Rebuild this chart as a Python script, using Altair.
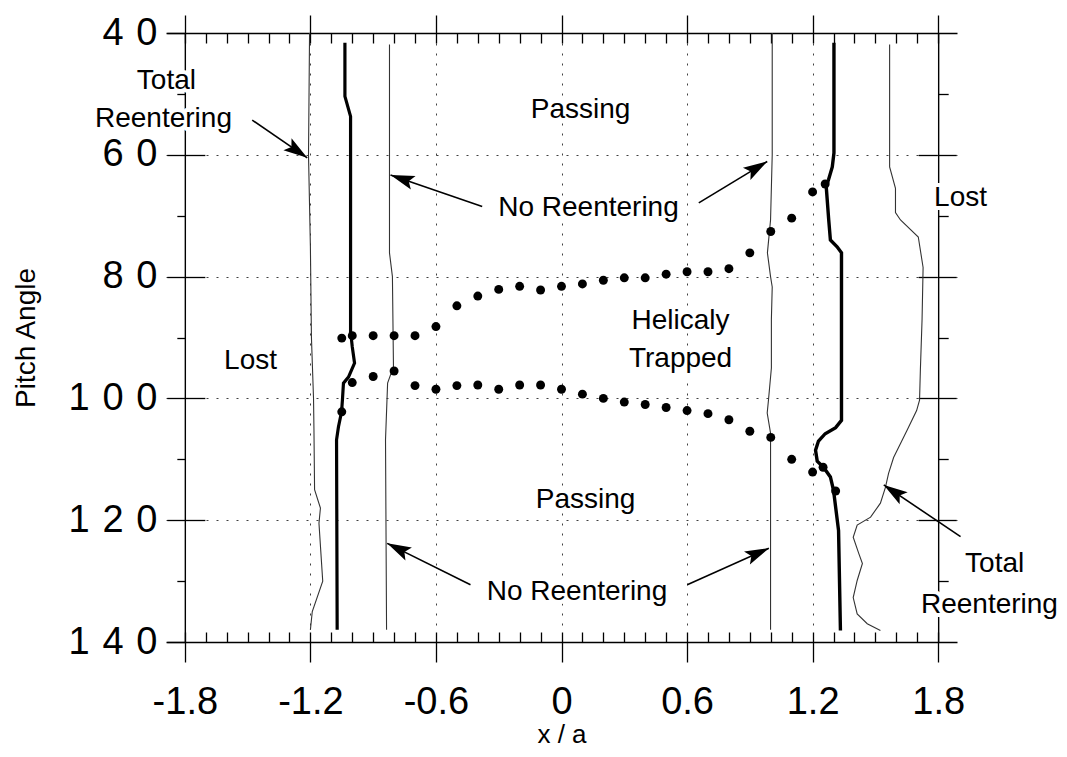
import math
import altair as alt
import pandas as pd

FONT = "Liberation Sans"
W, H = 791, 609
XMIN, XMAX = -1.89, 1.89
YMIN, YMAX = 40, 140

# ---------------- axis ticks / labels ----------------
x_major = [-1.8, -1.2, -0.6, 0.0, 0.6, 1.2, 1.8]
x_major_labels = ["-1.8", "-1.2", "-0.6", "0", "0.6", "1.2", "1.8"]
x_minor = [round(-1.8 + 0.1 * k, 1) for k in range(37)]
x_grid = [-1.2, -0.6, 0.0, 0.6, 1.2]
y_major = [40, 60, 80, 100, 120, 140]
y_major_labels = ["4\u20040", "6\u20040", "8\u20040", "1\u20040\u20040", "1\u20042\u20040", "1\u20044\u20040"]
y_inner = [60, 80, 100, 120]
y_minor = [50, 70, 90, 110, 130]

# ---------------- curves (x/a, pitch angle) ----------------
left_total_x = [-1.204, -1.209, -1.200, -1.195, -1.185, -1.183, -1.180, -1.152, -1.159, -1.141, -1.191, -1.200]
left_total_p = [40, 60, 75, 90, 100, 105, 115, 118, 120.5, 130, 135, 138]

left_thick_x = [-1.035, -1.035, -1.008, -1.008, -1.005, -1.000, -0.989, -1.018, -1.042, -1.047, -1.051, -1.066, -1.075, -1.072]
left_thick_p = [41.6, 50.4, 53.7, 89.2, 89.9, 91.5, 94.2, 96.5, 97.5, 100.3, 102.2, 104.7, 106.8, 138.0]

left_nr_x = [-0.822, -0.822, -0.808, -0.803, -0.831, -0.841, -0.836]
left_nr_p = [41.9, 76.1, 80.0, 94.8, 97.5, 106.8, 138.0]

right_nr_x = [1.007, 1.007, 0.999, 0.984, 0.999, 1.007, 1.003, 1.003, 0.989, 0.983, 0.999, 0.999]
right_nr_p = [40, 60, 70.7, 76.1, 80.0, 81.7, 87, 95, 100.3, 102.4, 105.7, 138.0]

right_thick_x = [1.302, 1.302, 1.294, 1.276, 1.265, 1.277, 1.285, 1.317, 1.338, 1.338, 1.310, 1.260,
                 1.228, 1.214, 1.222, 1.252, 1.285, 1.300, 1.324, 1.333]
right_thick_p = [41.6, 59.7, 62.0, 64.1, 65.2, 70.7, 74.0, 75.1, 76.1, 103.6, 104.8, 105.8,
                 107.0, 108.5, 110.3, 111.3, 112.9, 115.1, 121.7, 138.1]

right_total_x = [1.568, 1.568, 1.596, 1.596, 1.620, 1.705, 1.728, 1.723, 1.715, 1.711, 1.697, 1.652, 1.587,
                 1.563, 1.548, 1.524, 1.477, 1.413, 1.394, 1.420, 1.438, 1.413, 1.394, 1.413, 1.461, 1.524]
right_total_p = [41.9, 62.0, 65.5, 69.5, 70.7, 73.5, 78.5, 87.1, 95.3, 100.3, 102.0, 105.2, 109.7,
                 112.3, 114.6, 117.2, 119.5, 120.8, 122.8, 125.4, 127.1, 129.9, 132.7, 135.4, 137.0, 138.1]

# ---------------- helically trapped boundary points ----------------
upper_x = [-1.05, -1.0, -0.9, -0.8, -0.7, -0.6, -0.5, -0.4, -0.3, -0.2, -0.1, 0.0, 0.1, 0.2, 0.3,
           0.4, 0.5, 0.6, 0.7, 0.8, 0.9, 1.0, 1.1, 1.2, 1.26]
upper_p = [90.1, 89.7, 89.7, 89.7, 89.7, 88.2, 84.8, 83.2, 82.1, 81.6, 82.2, 81.6, 81.2, 80.6, 80.2,
           80.2, 79.6, 79.2, 79.2, 78.7, 76.1, 72.6, 70.4, 66.1, 64.8]
lower_x = [-1.05, -1.0, -0.9, -0.8, -0.7, -0.6, -0.5, -0.4, -0.3, -0.2, -0.1, 0.0, 0.1, 0.2, 0.3,
           0.4, 0.5, 0.6, 0.7, 0.8, 0.9, 1.0, 1.1, 1.2, 1.25, 1.31]
lower_p = [102.2, 97.4, 96.4, 95.5, 97.9, 98.5, 97.9, 97.8, 98.5, 97.8, 97.8, 98.5, 99.3, 100.0, 100.6,
           101.0, 101.5, 102.0, 102.5, 103.5, 105.4, 106.4, 110.0, 112.1, 111.3, 115.2]

# ---------------- annotations ----------------
note_text = ["Total", "Reentering", "Passing", "No Reentering", "Lost", "Helicaly", "Trapped",
             "Lost", "Passing", "No Reentering", "Total", "Reentering"]
note_x = [-1.888, -1.902, 0.091, 0.129, -1.486, 0.569, 0.569, 1.907, 0.115, 0.074, 2.070, 2.045]
note_p = [47.8, 54.2, 52.6, 68.7, 93.8, 87.3, 93.5, 67.1, 116.7, 131.8, 127.2, 133.9]

arrow_tail_x = [-1.478, -0.379, 0.656, -0.435, 0.601, 1.907]
arrow_tail_p = [54.3, 68.5, 67.9, 130.6, 130.6, 122.7]
arrow_tip_x = [-1.215, -0.817, 0.983, -0.833, 0.991, 1.540]
arrow_tip_p = [60.5, 63.3, 61.1, 123.8, 124.6, 114.2]

# ---------------- build ----------------
XS = alt.Scale(domain=[XMIN, XMAX], nice=False, zero=False)
YS = alt.Scale(domain=[YMIN, YMAX], reverse=True, nice=False, zero=False)
px_per_x = W / (XMAX - XMIN)
px_per_p = H / (YMAX - YMIN)


def ax(**kw):
    base = dict(title=None, labels=False, ticks=False, domain=False, grid=False,
                domainColor="black", domainWidth=1.4, tickColor="black", tickWidth=1.3)
    base.update(kw)
    return alt.Axis(**base)


carrier_df = pd.DataFrame({"x": [0.0], "p": [90.0]})


def carrier(xaxis, yaxis):
    return alt.Chart(carrier_df).mark_point(opacity=0).encode(
        x=alt.X("x:Q", scale=XS, axis=xaxis),
        y=alt.Y("p:Q", scale=YS, axis=yaxis),
    )


def lookup_expr(labels, values, mult):
    return "[" + ",".join("'%s'" % s for s in labels) + "][indexof([" + \
        ",".join(str(int(round(v * mult))) for v in values) + \
        "], round(datum.value*%d))]" % mult


y_off = -(x_major[0] - XMIN) * px_per_x  # y axes sit at x = -1.8 / 1.8

carriers = [
    carrier(
        ax(orient="bottom", values=x_major, labels=True, ticks=True, domain=True, tickSize=20,
           labelFont=FONT, labelFontSize=38, labelColor="black", labelPadding=21,
           labelFlush=False, labelOverlap=False, labelExpr=lookup_expr(x_major_labels, x_major, 10),
           title="x / a", titleFont=FONT, titleFontSize=26, titleFontWeight="normal",
           titleColor="black", titleBaseline="alphabetic", titleY=100),
        ax(orient="left", values=y_major, labels=True, ticks=True, domain=True, tickSize=18,
           offset=y_off, labelFont=FONT, labelFontSize=38, labelColor="black", labelPadding=10,
           labelOverlap=False, labelFlush=False, labelExpr=lookup_expr(y_major_labels, y_major, 1),
           title="Pitch Angle", titleFont=FONT, titleFontSize=28, titleFontWeight="normal",
           titleColor="black", titlePadding=28),
    ),
    carrier(
        ax(orient="bottom", values=x_minor, ticks=True, tickSize=10, offset=-10),
        ax(orient="left", values=y_inner, ticks=True, tickSize=20, offset=y_off - 20),
    ),
    carrier(
        ax(orient="top", values=x_major, ticks=True, domain=True, tickSize=18),
        ax(orient="left", values=y_minor, ticks=True, tickSize=8, offset=y_off),
    ),
    carrier(
        ax(orient="top", values=x_minor, ticks=True, tickSize=10, offset=-10),
        ax(orient="right", values=y_inner, ticks=True, domain=True, tickSize=18, offset=y_off),
    ),
    carrier(
        ax(orient="top", values=x_grid, grid=True, gridColor="black", gridDash=[2, 8],
           gridWidth=1, gridOpacity=0.75),
        ax(orient="right", values=y_minor, ticks=True, tickSize=10, offset=y_off),
    ),
    carrier(
        None,
        ax(orient="right", values=y_inner, ticks=True, tickSize=19, offset=y_off - 20),
    ),
    carrier(
        None,
        ax(orient="left", values=y_inner, grid=True, gridColor="black", gridDash=[2, 8],
           gridWidth=1, gridOpacity=0.75),
    ),
]


def curve(xs, ps, width, color):
    df = pd.DataFrame({"x": xs, "p": ps, "i": list(range(len(xs)))})
    return alt.Chart(df).mark_line(strokeWidth=width, color=color).encode(
        x=alt.X("x:Q", scale=XS, axis=None),
        y=alt.Y("p:Q", scale=YS, axis=None),
        order="i:Q",
    )


curves = [
    curve(left_total_x, left_total_p, 1.1, "#333333"),
    curve(left_thick_x, left_thick_p, 3.2, "black"),
    curve(left_nr_x, left_nr_p, 1.1, "#333333"),
    curve(right_nr_x, right_nr_p, 1.1, "#333333"),
    curve(right_thick_x, right_thick_p, 3.4, "black"),
    curve(right_total_x, right_total_p, 1.1, "#333333"),
]

dots_df = pd.DataFrame({"x": upper_x + lower_x, "p": upper_p + lower_p})
dots = alt.Chart(dots_df).mark_circle(size=80, color="black", opacity=1).encode(
    x=alt.X("x:Q", scale=XS, axis=None),
    y=alt.Y("p:Q", scale=YS, axis=None),
)

notes_df = pd.DataFrame({"x": note_x, "p": note_p, "t": note_text})
halo = alt.Chart(notes_df).mark_text(font=FONT, fontSize=28, color="white", stroke="white",
                                     strokeWidth=8, strokeJoin="round",
                                     align="center", baseline="middle").encode(
    x=alt.X("x:Q", scale=XS, axis=None), y=alt.Y("p:Q", scale=YS, axis=None), text="t:N")
notes = alt.Chart(notes_df).mark_text(font=FONT, fontSize=28, color="black",
                                      align="center", baseline="middle").encode(
    x=alt.X("x:Q", scale=XS, axis=None), y=alt.Y("p:Q", scale=YS, axis=None), text="t:N")

angles = []
for tx, tp, hx, hp in zip(arrow_tail_x, arrow_tail_p, arrow_tip_x, arrow_tip_p):
    dx = (hx - tx) * px_per_x
    dy = (hp - tp) * px_per_p
    angles.append(math.degrees(math.atan2(dx, -dy)) % 360)

arrows_df = pd.DataFrame({"tx": arrow_tail_x, "tp": arrow_tail_p,
                          "hx": arrow_tip_x, "hp": arrow_tip_p, "ang": angles})
shafts = alt.Chart(arrows_df).mark_rule(strokeWidth=1.6, color="black").encode(
    x=alt.X("tx:Q", scale=XS, axis=None), x2="hx:Q",
    y=alt.Y("tp:Q", scale=YS, axis=None), y2="hp:Q")
ARROW = "M0,0 L-0.6,2 L0,1.6 L0.6,2 Z"
heads = alt.Chart(arrows_df).mark_point(shape=ARROW, filled=True, size=576, color="black",
                                        opacity=1, strokeWidth=0).encode(
    x=alt.X("hx:Q", scale=XS, axis=None), y=alt.Y("hp:Q", scale=YS, axis=None),
    angle=alt.Angle("ang:Q", scale=None))

chart = alt.layer(*carriers, *curves, dots, shafts, heads, halo, notes).resolve_axis(
    x="independent", y="independent"
).properties(
    width=W, height=H,
    padding={"left": 158, "top": 25, "right": 102, "bottom": 107},
    autosize=alt.AutoSizeParams(type="none"),
    background="white",
).configure_view(stroke=None)

chart.save("out.html", embed_options={"renderer": "svg", "actions": False})
